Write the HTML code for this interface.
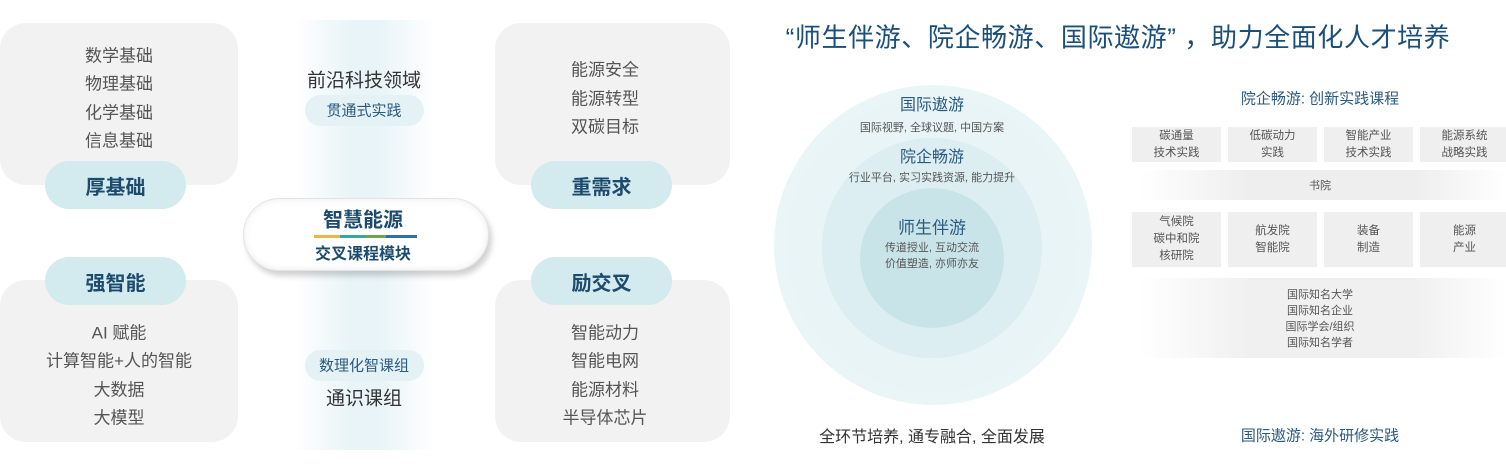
<!DOCTYPE html>
<html><head><meta charset="utf-8"><style>
*{margin:0;padding:0;box-sizing:border-box}
body{width:1506px;height:471px;background:#fff;position:relative;overflow:hidden;font-family:"Liberation Sans","Noto Sans CJK SC",sans-serif}
.a{position:absolute}
.t{position:absolute;transform:translate(-50%,-50%);white-space:nowrap}
.card{position:absolute;background:#f2f2f2;border-radius:26px}
.pill{position:absolute;background:#d3eaef;border-radius:24px;display:flex;align-items:center;justify-content:center;font-weight:bold;font-size:20px;color:#1d4b6e}
.ct{font-size:17px;color:#555}
.b{position:absolute;background:#efefef;display:flex;flex-direction:column;align-items:center;justify-content:center;font-size:11.5px;color:#555;line-height:17px;text-align:center}
.s{font-size:11px;color:#555}
.h{font-size:15px;color:#2b5a80;font-weight:bold}
</style></head><body>
<div class="a" style="left:295px;top:20px;width:140px;height:430px;background:linear-gradient(90deg,rgba(230,243,247,0),rgba(230,243,247,0.9) 40%,rgba(230,243,247,0.9) 60%,rgba(230,243,247,0))"></div>

<div class="card" style="left:0;top:23px;width:238px;height:162px"></div>
<div class="card" style="left:0;top:280px;width:238px;height:162px"></div>
<div class="card" style="left:495px;top:23px;width:235px;height:162px"></div>
<div class="card" style="left:495px;top:280px;width:235px;height:162px"></div>

<div class="t ct" style="left:119px;top:54px">数学基础</div>
<div class="t ct" style="left:119px;top:82px">物理基础</div>
<div class="t ct" style="left:119px;top:111px">化学基础</div>
<div class="t ct" style="left:119px;top:139px">信息基础</div>
<div class="pill" style="left:45px;top:161px;width:141px;height:48px">厚基础</div>

<div class="pill" style="left:45px;top:257px;width:141px;height:48px">强智能</div>
<div class="t ct" style="left:119px;top:331px">AI 赋能</div>
<div class="t ct" style="left:119px;top:359px">计算智能+人的智能</div>
<div class="t ct" style="left:119px;top:388px">大数据</div>
<div class="t ct" style="left:119px;top:416px">大模型</div>

<div class="t ct" style="left:605px;top:68px">能源安全</div>
<div class="t ct" style="left:605px;top:97px">能源转型</div>
<div class="t ct" style="left:605px;top:125px">双碳目标</div>
<div class="pill" style="left:531px;top:161px;width:141px;height:48px">重需求</div>

<div class="pill" style="left:531px;top:257px;width:141px;height:48px">励交叉</div>
<div class="t ct" style="left:605px;top:331px">智能动力</div>
<div class="t ct" style="left:605px;top:359px">智能电网</div>
<div class="t ct" style="left:605px;top:388px">能源材料</div>
<div class="t ct" style="left:605px;top:416px">半导体芯片</div>

<div class="t" style="left:364px;top:79px;font-size:19px;color:#333">前沿科技领域</div>
<div class="a" style="left:305px;top:95px;width:119px;height:31px;border-radius:16px;background:#e4f1f5"></div>
<div class="t" style="left:364px;top:110px;font-size:15px;color:#2b5a80">贯通式实践</div>

<div class="a" style="left:243px;top:198px;width:246px;height:73px;border-radius:37px;background:#fff;box-shadow:3px 5px 6px rgba(0,0,0,0.18),inset 0 0 8px rgba(0,0,0,0.08);border:1px solid #e4e4e4"></div>
<div class="t" style="left:363px;top:218px;font-size:20px;font-weight:bold;color:#1d4b6e">智慧能源</div>
<div class="a" style="left:314px;top:235px;width:103px;height:3px;background:linear-gradient(90deg,#f0b34a,#f0b34a 25%,#3aa6a0 25%,#3aa6a0 50%,#6aa84f 50%,#6aa84f 70%,#2f6fb0 70%)"></div>
<div class="t" style="left:363px;top:252px;font-size:16px;font-weight:bold;color:#1d4b6e">交叉课程模块</div>

<div class="a" style="left:305px;top:350px;width:119px;height:31px;border-radius:16px;background:#e4f1f5"></div>
<div class="t" style="left:364px;top:365px;font-size:15px;color:#2b5a80">数理化智课组</div>
<div class="t" style="left:364px;top:397px;font-size:19px;color:#333">通识课组</div>

<div class="t" style="left:1118px;top:36px;font-size:26px;letter-spacing:0.6px;color:#1b4f7a">“师生伴游、院企畅游、国际遨游”&nbsp;，助力全面化人才培养</div>

<div class="a" style="left:774px;top:85px;width:318px;height:320px;border-radius:50%;background:radial-gradient(ellipse at center,#e8f4f6 60%,#f2f9fa 100%)"></div>
<div class="a" style="left:822px;top:138px;width:220px;height:220px;border-radius:50%;background:#dceef1"></div>
<div class="a" style="left:860px;top:188px;width:144px;height:140px;border-radius:50%;background:#c9e4e9"></div>

<div class="t h" style="left:932px;top:103px;font-weight:normal;font-size:16px">国际遨游</div>
<div class="t s" style="left:932px;top:127px">国际视野, 全球议题, 中国方案</div>
<div class="t h" style="left:932px;top:155px;font-weight:normal;font-size:16px">院企畅游</div>
<div class="t s" style="left:932px;top:177px">行业平台, 实习实践资源, 能力提升</div>
<div class="t h" style="left:932px;top:226px;font-size:17px;font-weight:normal">师生伴游</div>
<div class="t s" style="left:932px;top:247px">传道授业, 互动交流</div>
<div class="t s" style="left:932px;top:263px">价值塑造, 亦师亦友</div>
<div class="t" style="left:932px;top:435px;font-size:16px;color:#333">全环节培养, 通专融合, 全面发展</div>

<div class="t h" style="left:1320px;top:98px;font-weight:normal">院企畅游: 创新实践课程</div>
<div class="b" style="left:1132px;top:127px;width:89px;height:35px">碳通量<br>技术实践</div>
<div class="b" style="left:1228px;top:127px;width:89px;height:35px">低碳动力<br>实践</div>
<div class="b" style="left:1324px;top:127px;width:89px;height:35px">智能产业<br>技术实践</div>
<div class="b" style="left:1420px;top:127px;width:89px;height:35px">能源系统<br>战略实践</div>

<div class="a" style="left:1140px;top:170px;width:366px;height:30px;background:linear-gradient(90deg,rgba(238,238,238,0),#eeeeee 30%,#eeeeee 75%,rgba(238,238,238,0))"></div>
<div class="t s" style="left:1320px;top:185px">书院</div>

<div class="b" style="left:1132px;top:212px;width:89px;height:55px">气候院<br>碳中和院<br>核研院</div>
<div class="b" style="left:1228px;top:212px;width:89px;height:55px">航发院<br>智能院</div>
<div class="b" style="left:1324px;top:212px;width:89px;height:55px">装备<br>制造</div>
<div class="b" style="left:1420px;top:212px;width:89px;height:55px">能源<br>产业</div>

<div class="a" style="left:1140px;top:278px;width:366px;height:80px;background:linear-gradient(90deg,rgba(240,240,240,0),#f0f0f0 30%,#f0f0f0 75%,rgba(240,240,240,0))"></div>
<div class="t s" style="left:1320px;top:294px">国际知名大学</div>
<div class="t s" style="left:1320px;top:310px">国际知名企业</div>
<div class="t s" style="left:1320px;top:326px">国际学会/组织</div>
<div class="t s" style="left:1320px;top:342px">国际知名学者</div>

<div class="t h" style="left:1320px;top:435px;font-weight:normal">国际遨游: 海外研修实践</div>
</body></html>
